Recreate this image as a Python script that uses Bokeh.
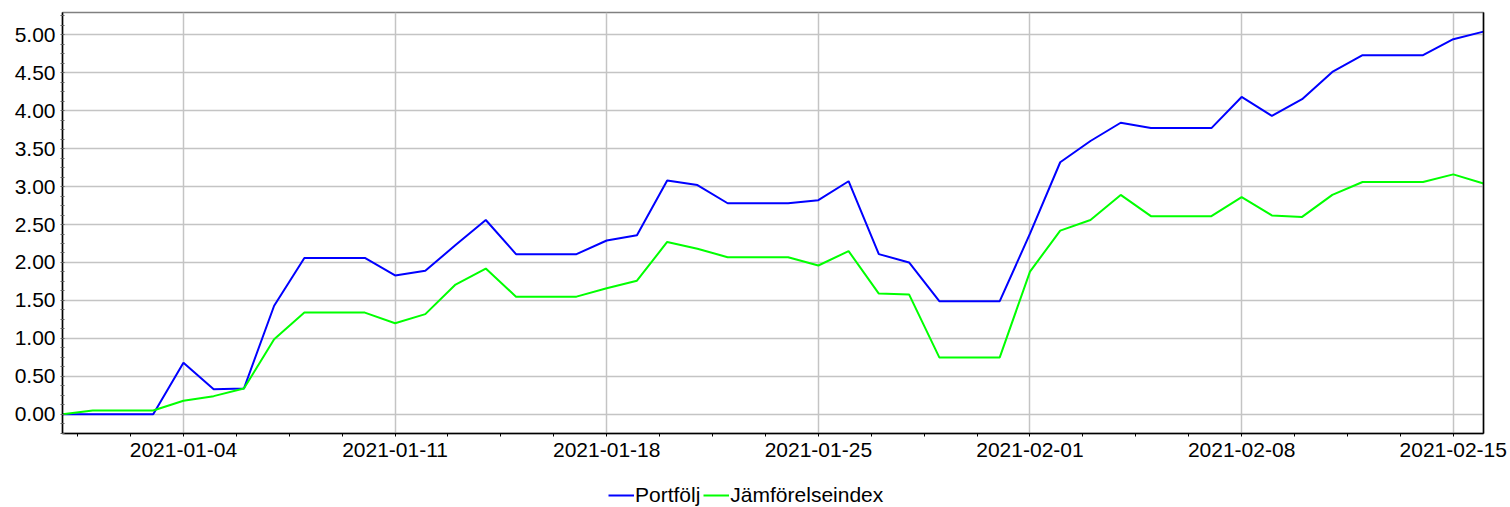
from datetime import datetime
from bokeh.plotting import figure
from bokeh.layouts import column
from bokeh.models import (Range1d, FixedTicker, SingleIntervalTicker, DatetimeTickFormatter,
                          NumeralTickFormatter, Legend, LegendItem, LinearAxis)
from bokeh.embed import file_html
from bokeh.resources import INLINE

dates = ["2020-12-31", "2021-01-01", "2021-01-02", "2021-01-03", "2021-01-04", "2021-01-05",
         "2021-01-06", "2021-01-07", "2021-01-08", "2021-01-09", "2021-01-10", "2021-01-11",
         "2021-01-12", "2021-01-13", "2021-01-14", "2021-01-15", "2021-01-16", "2021-01-17",
         "2021-01-18", "2021-01-19", "2021-01-20", "2021-01-21", "2021-01-22", "2021-01-23",
         "2021-01-24", "2021-01-25", "2021-01-26", "2021-01-27", "2021-01-28", "2021-01-29",
         "2021-01-30", "2021-01-31", "2021-02-01", "2021-02-02", "2021-02-03", "2021-02-04",
         "2021-02-05", "2021-02-06", "2021-02-07", "2021-02-08", "2021-02-09", "2021-02-10",
         "2021-02-11", "2021-02-12", "2021-02-13", "2021-02-14", "2021-02-15", "2021-02-16"]

portfolj = [0.00, 0.00, 0.00, 0.00, 0.68, 0.33, 0.34, 1.43, 2.06, 2.06, 2.06, 1.83,
            1.89, 2.23, 2.56, 2.11, 2.11, 2.11, 2.29, 2.36, 3.08, 3.02, 2.78, 2.78,
            2.78, 2.82, 3.07, 2.11, 2.00, 1.49, 1.49, 1.49, 2.38, 3.32, 3.60, 3.84,
            3.77, 3.77, 3.77, 4.18, 3.93, 4.15, 4.51, 4.73, 4.73, 4.73, 4.94, 5.04]

jamforelseindex = [0.00, 0.05, 0.05, 0.05, 0.18, 0.24, 0.34, 0.99, 1.34, 1.34, 1.34, 1.20,
                   1.32, 1.71, 1.92, 1.55, 1.55, 1.55, 1.66, 1.76, 2.27, 2.18, 2.07, 2.07,
                   2.07, 1.96, 2.15, 1.59, 1.58, 0.75, 0.75, 0.75, 1.88, 2.42, 2.56, 2.89,
                   2.61, 2.61, 2.61, 2.86, 2.62, 2.60, 2.89, 3.06, 3.06, 3.06, 3.16, 3.04]

x_tick_labels = ["2021-01-04", "2021-01-11", "2021-01-18", "2021-01-25",
                 "2021-02-01", "2021-02-08", "2021-02-15"]

series_names = ["Portfölj", "Jämförelseindex"]
series_colors = ["#0000ff", "#00ff00"]

FONT = "Liberation Sans"

xs = [datetime.strptime(d, "%Y-%m-%d") for d in dates]
ymin = min(min(portfolj), min(jamforelseindex))
ymax = max(max(portfolj), max(jamforelseindex))
pad = 0.05 * (ymax - ymin)

p = figure(width=1510, height=466, x_axis_type="datetime", output_backend="svg",
           toolbar_location=None,
           x_range=Range1d(xs[0], xs[-1]),
           y_range=Range1d(ymin - pad, ymax + pad),
           min_border_left=62, min_border_right=27, min_border_top=12, min_border_bottom=33)

major = [datetime.strptime(d, "%Y-%m-%d") for d in x_tick_labels]
ms = lambda d: d.timestamp() * 1000.0
major_ms = [ms(d) for d in major]
step = 1.75 * 86400000.0
minor_ms = []
t = major_ms[0] - 3 * step
while t <= major_ms[-1] + 2 * step:
    minor_ms.append(t)
    t += step
p.xaxis.ticker = FixedTicker(ticks=major_ms, minor_ticks=minor_ms)
p.xaxis.formatter = DatetimeTickFormatter(days="%Y-%m-%d", months="%Y-%m-%d", hours="%Y-%m-%d")
p.yaxis.ticker = SingleIntervalTicker(interval=0.5, num_minor_ticks=4)
p.yaxis.formatter = NumeralTickFormatter(format="0.00")

for ax in (p.xaxis[0], p.yaxis[0]):
    ax.major_label_text_font = FONT
    ax.major_label_text_font_size = "21px"
    ax.major_label_text_color = "#000000"
    ax.axis_line_color = "#000000"
    ax.axis_line_width = 1.5
    ax.major_tick_line_color = "#000000"
    ax.minor_tick_line_color = "#000000"
p.xaxis.major_tick_out = 0
p.xaxis.major_tick_in = 0
p.xaxis.minor_tick_out = 3
p.xaxis.minor_tick_in = 0
p.xaxis.major_label_standoff = 6
p.yaxis.major_tick_out = 0
p.yaxis.major_tick_in = 0
p.yaxis.minor_tick_out = 2
p.yaxis.minor_tick_in = 2
p.yaxis.minor_tick_line_color = "#606060"
p.yaxis.major_label_standoff = 5

right_axis = LinearAxis(ticker=FixedTicker(ticks=[]), major_tick_line_color=None,
                        minor_tick_line_color=None, axis_line_color="#000000",
                        axis_line_width=1.5, major_label_standoff=0)
p.add_layout(right_axis, "right")

p.outline_line_color = "#808080"
p.outline_line_width = 1.5
p.grid.grid_line_color = "#c4c4c4"
p.grid.grid_line_width = 1.5
p.xgrid.ticker = FixedTicker(ticks=major_ms)
p.background_fill_color = "white"
p.border_fill_color = "white"

r1 = p.line(xs, portfolj, line_color=series_colors[0], line_width=2)
r2 = p.line(xs, jamforelseindex, line_color=series_colors[1], line_width=2)

# legend strip below the chart (its frame is aligned with the chart's frame)
nan = float("nan")
lg = figure(width=1510, height=41, output_backend="svg", toolbar_location=None,
            x_range=Range1d(0, 1), y_range=Range1d(0, 1),
            min_border=0, outline_line_color=None)
lg.axis.visible = False
lg.grid.visible = False
lr1 = lg.line([nan], [nan], line_color=series_colors[0], line_width=2)
lr2 = lg.line([nan], [nan], line_color=series_colors[1], line_width=2)

legend = Legend(items=[LegendItem(label=series_names[0], renderers=[lr1]),
                       LegendItem(label=series_names[1], renderers=[lr2])],
                orientation="horizontal", location=(546, 0),
                label_text_font=FONT, label_text_font_size="21px", label_text_color="#000000",
                label_standoff=1, glyph_width=26, glyph_height=20, label_height=20,
                spacing=3, padding=0, margin=0,
                border_line_color=None, background_fill_alpha=0)
lg.add_layout(legend, "center")

layout = column(p, lg, spacing=0)
open("out.html", "w").write(file_html(layout, INLINE))
